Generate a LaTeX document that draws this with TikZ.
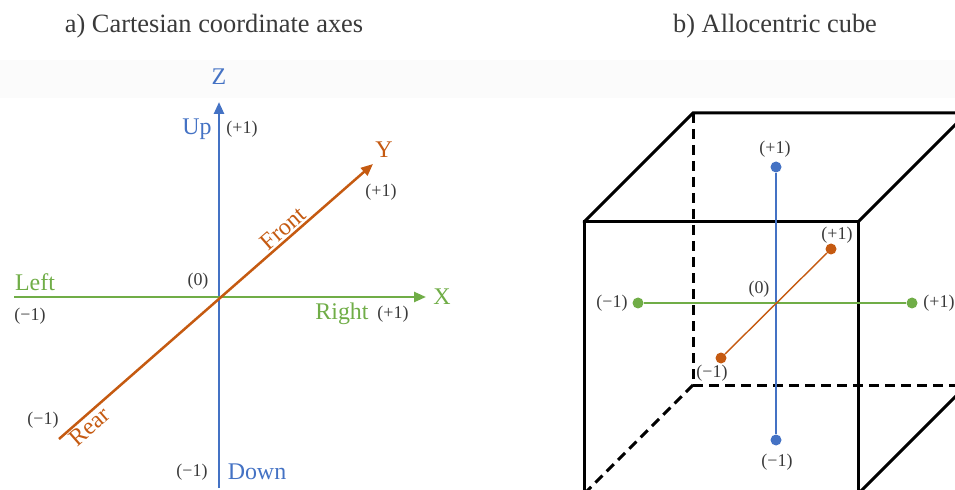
\documentclass[tikz,border=0pt]{standalone}
\usepackage{fontspec}
\setmainfont{Liberation Serif}
\usetikzlibrary{arrows.meta}
\definecolor{azul}{HTML}{4472C4}
\definecolor{naranja}{HTML}{C55A11}
\definecolor{verde}{HTML}{70AD47}
\definecolor{numgris}{HTML}{3A3A3A}
\tikzset{
  titulo/.style={font=\fontsize{26.5}{30}\selectfont, text=numgris, inner sep=0pt},
  rotulo/.style={font=\fontsize{24}{28}\selectfont, inner sep=0pt},
  valor/.style={font=\fontsize{18}{21}\selectfont, text=numgris, inner sep=0pt},
  eje/.style={line width=2.5bp, -{Triangle[length=12bp,width=10bp]}},
  arista/.style={line width=3bp, line cap=round},
  oculta/.style={line width=3bp, dash pattern=on 10bp off 6bp},
  fina/.style={line width=1.4bp},
  bola/.style={circle, inner sep=0pt, minimum size=11bp}
}
\begin{document}
\begin{tikzpicture}[x=1bp, y=-1bp]
  \useasboundingbox (0,0) rectangle (955,490);
  \clip (0,0) rectangle (955,490);
  \fill[black!1.5] (0,60) rectangle (955,98);
  % los titulos
  \node[titulo] (tita) at (214,26) {a) Cartesian coordinate axes};
  \node[titulo] (titb) at (775,26) {b) Allocentric cube};

  % a) los tres ejes
  \coordinate (o) at (219,297);
  \coordinate (zbaja) at (219,488); \coordinate (zalta) at (219,102);
  \coordinate (xizq) at (14,297); \coordinate (xder) at (426,297);
  \coordinate (yatras) at (59,439); \coordinate (yfrente) at (373,164);
  \draw[eje, azul] (zbaja) -- (zalta);
  \draw[eje, verde] (xizq) -- (xder);
  \draw[eje, naranja] (yatras) -- (yfrente);
  \path (yatras) -- (yfrente)
    node[rotulo, text=naranja, sloped, above=3bp, pos=0.735] (front) {Front}
    node[rotulo, text=naranja, sloped, below=3bp, pos=0.075] (rear) {Rear};
  % nombres de los ejes
  \node[rotulo, text=azul] (z) at (219,77) {Z};
  \node[rotulo, text=verde] (x) at (442,297) {X};
  \node[rotulo, text=naranja] (y) at (384,150) {Y};
  \node[rotulo, text=azul] (up) at (197,129) {Up};
  \node[rotulo, text=azul] (down) at (257,472) {Down};
  \node[rotulo, text=verde] (left) at (35,282) {Left};
  \node[rotulo, text=verde] (right) at (342,314) {Right};
  % los valores
  \node[valor] (upv) at (242,129) {(+1)};
  \node[valor] (downv) at (192,472) {(−1)};
  \node[valor] (leftv) at (30,316) {(−1)};
  \node[valor] (rightv) at (393,314) {(+1)};
  \node[valor] (frontv) at (381,192) {(+1)};
  \node[valor] (rearv) at (43,420) {(−1)};
  \node[valor] (ov) at (198,281) {(0)};

  % b) el cubo
  \coordinate (a) at (584,222); \coordinate (b) at (858,222);
  \coordinate (c) at (858,494); \coordinate (d) at (584,494);
  \coordinate (e) at (693,113); \coordinate (f) at (967,113);
  \coordinate (g) at (967,385); \coordinate (h) at (693,385);
  \draw[oculta] (e) -- (h) -- (g); \draw[oculta] (h) -- (d);
  \draw[arista] (d) -- (a) -- (b) -- (c) -- cycle;
  \draw[arista] (a) -- (e) -- (f) -- (b); \draw[arista] (c) -- (g) -- (f);
  % los puntos
  \node[bola, fill=azul] (zmas) at (776,167) {};
  \node[bola, fill=azul] (zmenos) at (776,440) {};
  \node[bola, fill=verde] (xmenos) at (638,303) {};
  \node[bola, fill=verde] (xmas) at (912,303) {};
  \node[bola, fill=naranja] (ymenos) at (721,358) {};
  \node[bola, fill=naranja] (ymas) at (831,249) {};
  \draw[fina, azul] (zmas) -- (zmenos);
  \draw[fina, verde] (xmenos) -- (xmas);
  \draw[fina, naranja] (ymenos) -- (ymas);
  \node[valor] (zmasv) at (775,149) {(+1)};
  \node[valor] (zmenosv) at (777,462) {(−1)};
  \node[valor] (xmenosv) at (612,303) {(−1)};
  \node[valor] (xmasv) at (939,303) {(+1)};
  \node[valor] (ymasv) at (837,235) {(+1)};
  \node[valor] (ymenosv) at (712,373) {(−1)};
  \node[valor] (cero) at (759,289) {(0)};
\end{tikzpicture}
\end{document}
